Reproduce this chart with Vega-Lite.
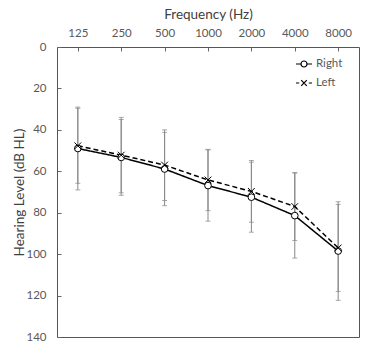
{
  "$schema": "https://vega.github.io/schema/vega-lite/v6.json",
  "width": 302,
  "height": 290,
  "autosize": {"type": "none"},
  "padding": {"left": 57, "top": 47, "right": 10, "bottom": 17},
  "background": "white",
  "config": {
    "font": "Lato",
    "view": {"stroke": "#555", "strokeWidth": 1},
    "axis": {"labelFont": "Lato", "titleFont": "Lato", "labelColor": "#595959", "titleColor": "#404040", "grid": false, "domain": false, "tickColor": "#666", "tickWidth": 1, "zindex": 1}
  },
  "data": {
    "values": [
      {"freq": "125", "ear": "Right", "mean": 49.0, "lo": 29.0, "hi": 69.0},
      {"freq": "250", "ear": "Right", "mean": 53.3, "lo": 35.0, "hi": 71.6},
      {"freq": "500", "ear": "Right", "mean": 58.9, "lo": 41.2, "hi": 76.6},
      {"freq": "1000", "ear": "Right", "mean": 66.9, "lo": 49.7, "hi": 84.1},
      {"freq": "2000", "ear": "Right", "mean": 72.5, "lo": 55.6, "hi": 89.4},
      {"freq": "4000", "ear": "Right", "mean": 81.4, "lo": 60.9, "hi": 101.9},
      {"freq": "8000", "ear": "Right", "mean": 98.5, "lo": 74.7, "hi": 122.3},
      {"freq": "125", "ear": "Left", "mean": 47.7, "lo": 29.6, "hi": 65.8},
      {"freq": "250", "ear": "Left", "mean": 52.2, "lo": 34.0, "hi": 70.4},
      {"freq": "500", "ear": "Left", "mean": 57.0, "lo": 40.0, "hi": 74.1},
      {"freq": "1000", "ear": "Left", "mean": 64.2, "lo": 49.4, "hi": 79.0},
      {"freq": "2000", "ear": "Left", "mean": 69.7, "lo": 54.8, "hi": 84.6},
      {"freq": "4000", "ear": "Left", "mean": 77.0, "lo": 60.6, "hi": 93.4},
      {"freq": "8000", "ear": "Left", "mean": 97.0, "lo": 76.0, "hi": 118.0}
    ]
  },
  "encoding": {
    "x": {
      "field": "freq", "type": "ordinal",
      "sort": ["125", "250", "500", "1000", "2000", "4000", "8000"],
      "scale": {"type": "point", "padding": 0.48},
      "axis": {"orient": "top", "title": "Frequency (Hz)", "titleFontSize": 13.5, "titleFontWeight": "normal", "titlePadding": 6, "labelFontSize": 11.5, "labelAngle": 0, "tickSize": -4, "labelPadding": 13}
    }
  },
  "resolve": {"scale": {"shape": "independent"}, "legend": {"shape": "independent", "strokeDash": "independent"}},
  "layer": [
    {
      "mark": {"type": "errorbar", "ticks": {"size": 5, "color": "#888", "strokeWidth": 1}, "rule": {"color": "#888", "strokeWidth": 1}},
      "encoding": {
        "y": {"field": "lo", "type": "quantitative", "scale": {"domain": [0, 140], "reverse": true, "nice": false},
          "axis": {"title": "Hearing Level (dB HL)", "titleFontSize": 13.5, "titleFontWeight": "normal", "titlePadding": -1, "labelFontSize": 11.5,
            "values": [0, 10, 20, 30, 40, 50, 60, 70, 80, 90, 100, 110, 120, 130, 140],
            "labelExpr": "datum.value % 20 === 0 ? datum.label : ''", "tickSize": -4, "labelPadding": 15}},
        "y2": {"field": "hi"},
        "detail": {"field": "ear"}
      }
    },
    {
      "mark": {"type": "line", "color": "black", "strokeWidth": 1.5},
      "encoding": {
        "y": {"field": "mean", "type": "quantitative"},
        "detail": {"field": "ear"},
        "strokeDash": {"field": "ear", "type": "nominal", "scale": {"domain": ["Right", "Left"], "range": [[1, 0], [5, 3]]}, "legend": null}
      }
    },
    {
      "mark": {"type": "point", "filled": true, "fill": "white", "stroke": "black", "strokeWidth": 1, "size": 45, "opacity": 1},
      "encoding": {
        "y": {"field": "mean", "type": "quantitative"},
        "shape": {"field": "ear", "type": "nominal",
          "scale": {"domain": ["Right", "Left"], "range": ["circle", "M-1,-1L1,1M-1,1L1,-1"]},
          "legend": null}
      }
    },
    {
      "transform": [{"filter": "datum.ear === 'none'"}],
      "mark": {"type": "point", "filled": false, "color": "black", "strokeWidth": 1.2, "opacity": 1},
      "encoding": {
        "y": {"field": "mean", "type": "quantitative"},
        "shape": {"field": "ear", "type": "nominal",
          "scale": {"domain": ["Right", "Left"], "range": ["M-1,0H-0.375M0.375,0H1M-0.375,0A0.375,0.375 0 1,1 0.375,0A0.375,0.375 0 1,1 -0.375,0", "M-1,0H-0.6M0.6,0H1M-0.35,-0.35L0.35,0.35M-0.35,0.35L0.35,-0.35"]},
          "legend": {"title": null, "orient": "none", "legendX": 238, "legendY": 8, "labelFontSize": 11.5, "labelColor": "#595959", "labelFont": "Lato", "rowPadding": 4, "labelOffset": 3, "symbolSize": 256, "symbolStrokeWidth": 1.2, "symbolStrokeColor": "black", "symbolOpacity": 1,
            "encode": {"symbols": {"update": {"stroke": {"value": "black"}, "strokeWidth": {"value": 1.2}, "opacity": {"value": 1}}}}}
        }
      }
    }
  ]
}
